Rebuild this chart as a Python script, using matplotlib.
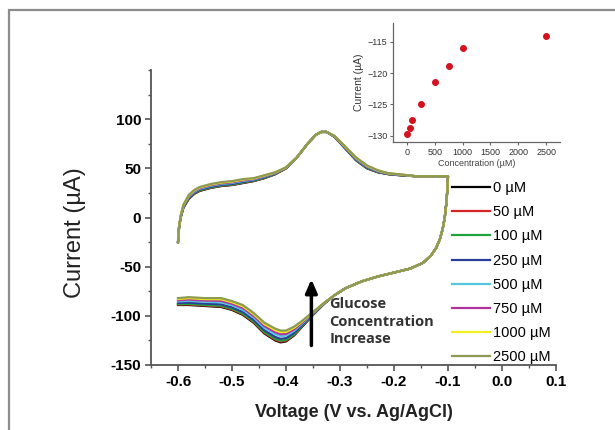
import numpy as np
import matplotlib.pyplot as plt
from matplotlib.patches import Rectangle

plt.rcParams['font.family'] = ['Liberation Sans', 'DejaVu Sans']

# concentrations and colours of each CV trace
conc = [0, 50, 100, 250, 500, 750, 1000, 2500]
labels = ['0 µM', '50 µM', '100 µM', '250 µM', '500 µM', '750 µM', '1000 µM', '2500 µM']
colors = ['#000000', '#d42424', '#1fa33a', '#2b3f98', '#55c6e0', '#b0329c', '#f2ef1e', '#8c9a52']

# cathodic peak current (uA)
peak = [-129.7, -128.7, -127.5, -125.0, -121.4, -118.8, -116.0, -114.0]

# forward scan (0 uM)
v_fwd = [-0.600, -0.598, -0.595, -0.590, -0.580, -0.570, -0.560, -0.540, -0.520, -0.500,
         -0.480, -0.460, -0.440, -0.420, -0.400, -0.380, -0.360, -0.345, -0.335, -0.325,
         -0.310, -0.290, -0.270, -0.250, -0.230, -0.210, -0.190, -0.160, -0.130, -0.100]
i_fwd = [-25, -10, 0, 10, 19, 24, 27, 30, 32, 33,
         35, 37, 40, 44, 50, 61, 75, 84, 87, 87,
         82, 70, 58, 50, 46, 44, 43, 42, 42, 42]
# small spread of the forward scan between 0 and 2500 uM
d_fwd = [0, 1, 2, 3, 4, 4, 4, 4, 4, 4,
         4, 3, 3, 2, 1, 0, 0, 0, 0, 0,
         1, 2, 3, 3, 2, 1, 1, 0, 0, 0]

# reverse scan (0 uM)
v_rev = [-0.100, -0.101, -0.103, -0.106, -0.110, -0.115, -0.122, -0.132, -0.146, -0.170,
         -0.200, -0.230, -0.260, -0.290, -0.310, -0.330, -0.350, -0.370, -0.385, -0.400,
         -0.410, -0.420, -0.440, -0.460, -0.480, -0.500, -0.520, -0.550, -0.580, -0.600]
i_rev = [42, 30, 15, 0, -12, -22, -31, -39, -46, -52,
         -56, -60, -65, -72, -79, -88, -99, -111, -120, -126,
         -127, -125, -118, -107, -99, -94, -91, -90, -89, -89]
# shift of the reverse scan between 0 and 2500 uM
d_rev = [0, 0, 0, 0, 0, 0, 0, 0, 0, 0,
         0, 0, 0, 0, 0, 1, 3, 6, 9, 11,
         12, 12, 11, 10, 10, 9, 9, 8, 8, 7]

fig = plt.figure(figsize=(6.15, 4.3), dpi=100)

# grey picture frame
fig.patches.append(Rectangle((9/615, -0.1), 1.2, 1 - 10/430 + 0.1, transform=fig.transFigure,
                             fill=False, edgecolor='#8c8c8c', lw=1.6))

ax = fig.add_axes([151/615, 1 - 365/430, 405/615, 295/430])
for k in range(len(conc)):
    f = (peak[k] - peak[0]) / (peak[-1] - peak[0])
    v = v_fwd + v_rev
    cur = [a + f*b for a, b in zip(i_fwd, d_fwd)] + [a + f*b for a, b in zip(i_rev, d_rev)]
    ax.plot(v, cur, color=colors[k], lw=1.6, label=labels[k])

ax.set_xlim(-0.65, 0.1)
ax.set_ylim(-150, 150)
ax.set_xticks([-0.6, -0.5, -0.4, -0.3, -0.2, -0.1, 0.0, 0.1])
ax.set_xticks(np.arange(-0.65, 0.11, 0.05), minor=True)
ax.set_yticks([-150, -100, -50, 0, 50, 100])
ax.set_yticks(np.arange(-150, 151, 25), minor=True)
ax.set_xticklabels(['-0.6', '-0.5', '-0.4', '-0.3', '-0.2', '-0.1', '0.0', '0.1'])
ax.set_yticklabels(['-150', '-100', '-50', '0', '50', '100'])
for s in ['top', 'right']:
    ax.spines[s].set_visible(False)
for s in ['left', 'bottom']:
    ax.spines[s].set_color('#555555')
    ax.spines[s].set_linewidth(1.3)
ax.tick_params(which='major', length=4, width=1.2, color='#555555', labelsize=11, pad=3)
ax.tick_params(which='minor', length=2.5, width=1.0, color='#555555')
for t in ax.get_xticklabels() + ax.get_yticklabels():
    t.set_fontweight('bold')
ax.set_xlabel('Voltage (V vs. Ag/AgCl)', fontsize=13, fontweight='bold', labelpad=11, color='#222222')
ax.set_ylabel('Current (µA)', fontsize=17, color='#222222')
ax.yaxis.set_label_coords(-0.16, 0.45)

# arrow and annotation
ax.annotate('', xy=(-0.353, -60), xytext=(-0.353, -133),
            arrowprops=dict(arrowstyle='-|>,head_width=0.35,head_length=0.8', color='black', lw=2.5))
ax.text(-0.32, -106, 'Glucose\nConcentration\nIncrease', fontsize=10.5, fontweight='bold',
        color='#333333', linespacing=1.3, va='center', family=['Open Sans', 'DejaVu Sans'])

ax.legend(loc='upper left', bbox_to_anchor=(452/615, 1 - 181/430), bbox_transform=fig.transFigure,
          frameon=False, fontsize=10.5, handlelength=2.6, labelspacing=0.70,
          handletextpad=0.2, borderpad=0, borderaxespad=0)

# inset: peak current vs concentration
ins = fig.add_axes([393/615, 1 - 142/430, 167/615, 119/430])
ins.plot(conc, peak, 'o', color='#d4121f', ms=4)
ins.set_xlim(-250, 2750)
ins.set_ylim(-131, -112)
ins.set_xticks([0, 500, 1000, 1500, 2000, 2500])
ins.set_yticks([-130, -125, -120, -115])
for s in ['top', 'right']:
    ins.spines[s].set_visible(False)
for s in ['left', 'bottom']:
    ins.spines[s].set_color('#666666')
    ins.spines[s].set_linewidth(0.9)
ins.tick_params(length=2.5, width=0.8, color='#666666', labelsize=6.5, pad=1.5, labelcolor='#333333')
ins.set_xlabel('Concentration (µM)', fontsize=6.5, labelpad=2, color='#444444')
ins.set_ylabel('Current (µA)', fontsize=7.5, labelpad=2, color='#333333')

fig.savefig('out.png', dpi=100)
